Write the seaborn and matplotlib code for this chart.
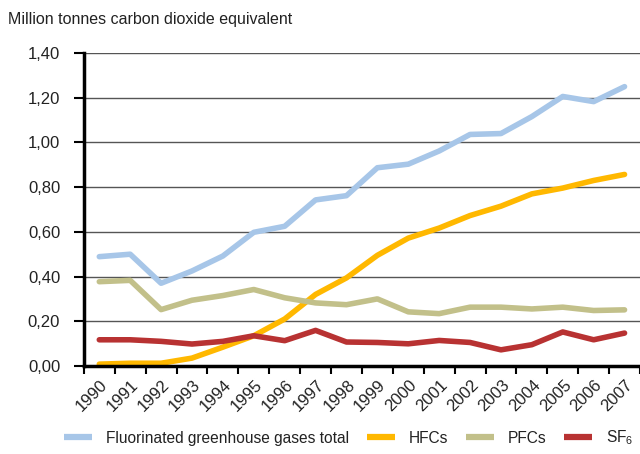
import matplotlib
matplotlib.use("Agg")
import matplotlib.pyplot as plt
import matplotlib.ticker as mticker
import matplotlib.transforms as mtransforms
import seaborn as sns
import pandas as pd
import numpy as np
from matplotlib.lines import Line2D

years = list(range(1990, 2008))
total = [0.489, 0.50, 0.370, 0.425, 0.492, 0.598, 0.625, 0.743, 0.762, 0.887, 0.903,
         0.962, 1.036, 1.040, 1.116, 1.206, 1.183, 1.250]
hfcs = [0.008, 0.012, 0.012, 0.035, 0.084, 0.135, 0.210, 0.320, 0.394, 0.495, 0.572,
        0.617, 0.673, 0.715, 0.770, 0.796, 0.830, 0.857]
pfcs = [0.377, 0.383, 0.252, 0.294, 0.315, 0.342, 0.305, 0.282, 0.274, 0.300, 0.242,
        0.234, 0.263, 0.263, 0.255, 0.263, 0.248, 0.251]
sf6 = [0.117, 0.117, 0.110, 0.098, 0.110, 0.135, 0.113, 0.159, 0.107, 0.105, 0.099,
       0.114, 0.105, 0.072, 0.095, 0.152, 0.117, 0.147]
series_names = ["Fluorinated greenhouse gases total", "HFCs", "PFCs", "SF$_6$"]
colors = ["#A7C6E8", "#FFB800", "#C2C08A", "#B83232"]
ylabel = "Million tonnes carbon dioxide equivalent"

sns.set_theme(style="white")
plt.rcParams['font.family'] = ['Liberation Sans', 'DejaVu Sans']
plt.rcParams['mathtext.fontset'] = 'custom'
plt.rcParams['mathtext.rm'] = 'Liberation Sans'
plt.rcParams['mathtext.it'] = 'Liberation Sans'
plt.rcParams['mathtext.default'] = 'regular'

rows = []
for name, vals in zip(series_names, [total, hfcs, pfcs, sf6]):
    for y, v in zip(years, vals):
        rows.append({"year": y, "value": v, "series": name})
df = pd.DataFrame(rows)

fig = plt.figure(figsize=(6.4, 4.54), dpi=100)
ax = fig.add_axes([0.131, 0.194, 0.869, 0.689])

for y in np.arange(0.2, 1.41, 0.2):
    ax.axhline(y, color="#555555", lw=1.0, zorder=0)

sns.lineplot(data=df, x="year", y="value", hue="series", hue_order=series_names,
             palette=colors, linewidth=4.0, ax=ax, legend=False)

ax.set_xlim(1989.5, 2007.5)
ax.set_ylim(0, 1.40)
ax.set_xlabel("")
ax.set_ylabel("")

ax.set_yticks(np.arange(0, 1.41, 0.2))
ax.yaxis.set_major_formatter(mticker.FuncFormatter(lambda v, p: f"{v:.2f}".replace(".", ",")))
ax.set_xticks(years)
ax.set_xticklabels([str(y) for y in years], rotation=45, ha="right", va="center",
                   rotation_mode="anchor")
ax.set_xticks(np.arange(1989.5, 2008, 1.0), minor=True)
ax.tick_params(axis="x", which="major", length=0, labelsize=12, colors="#222222", pad=12)
ax.tick_params(axis="x", which="minor", length=6, width=1.5, color="black", direction="out", bottom=True)
ax.tick_params(axis="y", which="major", length=7, width=1.5, color="black", direction="out",
               left=True, labelsize=12, labelcolor="#222222", pad=10)

offset = mtransforms.ScaledTranslation(6 / 100, 0, fig.dpi_scale_trans)
for lbl in ax.get_xticklabels():
    lbl.set_transform(lbl.get_transform() + offset)

for s in ["top", "right"]:
    ax.spines[s].set_visible(False)
for s in ["left", "bottom"]:
    ax.spines[s].set_color("black")
    ax.spines[s].set_linewidth(2.5)

fig.text(0.012, 0.958, ylabel, fontsize=11.5, color="#222222", ha="left", va="center")

handles = [Line2D([0], [0], color=c, lw=4.5, solid_capstyle="butt") for c in colors]
fig.legend(handles, series_names, loc="center", bbox_to_anchor=(0.545, 0.035), ncol=4,
           frameon=False, fontsize=11.2, handlelength=1.8, columnspacing=1.15, handletextpad=0.9,
           labelcolor="#222222", borderpad=0, borderaxespad=0)

fig.savefig("out.png", dpi=100)
